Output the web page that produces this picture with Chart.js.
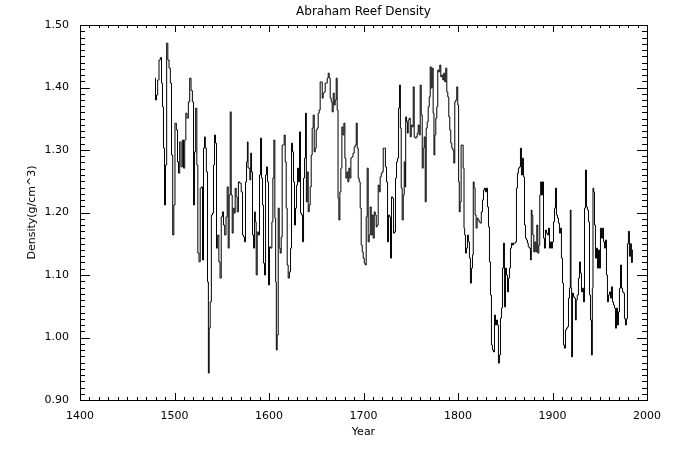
<!DOCTYPE html>
<html>
<head>
<meta charset="utf-8">
<script src="https://cdn.jsdelivr.net/npm/chart.js@4.4.1/dist/chart.umd.min.js"></script>
<style>
  html, body { margin: 0; padding: 0; background: #fff; }
  #wrap { width: 675px; height: 450px; }
</style>
</head>
<body>
<div id="wrap"><canvas id="chart" width="675" height="450"></canvas></div>
<script>
// Abraham Reef coral density series
const years = [
  1479.4, 1480.4, 1481.5, 1482.9, 1484.3, 1485.7, 1486.8, 1487.8, 1488.9, 1490.0,
  1491.0, 1492.4, 1493.5, 1494.9, 1496.3, 1497.4, 1498.8, 1499.8, 1501.2, 1502.7,
  1503.7, 1504.8, 1506.2, 1507.6, 1509.0, 1510.1, 1511.5, 1512.5, 1513.9, 1515.4,
  1516.8, 1518.2, 1519.6, 1520.7, 1521.7, 1523.1, 1524.2, 1525.2, 1526.7, 1527.7,
  1529.1, 1530.2, 1531.2, 1532.3, 1533.0, 1534.4, 1535.5, 1536.2, 1537.2, 1538.3,
  1539.7, 1540.8, 1541.8, 1542.9, 1543.9, 1545.0, 1546.4, 1547.5, 1548.9, 1550.0,
  1551.4, 1552.4, 1553.8, 1555.2, 1556.3, 1557.3, 1558.4, 1559.5, 1560.5, 1561.6,
  1562.6, 1563.7, 1564.7, 1565.8, 1566.9, 1568.3, 1569.7, 1571.5, 1572.5, 1573.6,
  1574.6, 1575.7, 1576.8, 1577.5, 1578.2, 1579.2, 1580.3, 1581.0, 1582.0, 1583.1,
  1584.2, 1585.2, 1585.9, 1587.0, 1588.0, 1589.4, 1590.5, 1591.6, 1592.6, 1593.7,
  1594.7, 1595.8, 1596.9, 1597.9, 1599.0, 1600.0, 1601.1, 1602.5, 1603.6, 1604.6,
  1605.7, 1606.7, 1607.4, 1608.1, 1609.2, 1610.3, 1611.3, 1612.4, 1613.4, 1614.5,
  1615.5, 1616.6, 1617.7, 1618.7, 1619.8, 1620.8, 1622.3, 1623.3, 1624.4, 1625.4,
  1626.5, 1627.5, 1628.6, 1629.7, 1630.7, 1631.8, 1632.8, 1633.9, 1635.0, 1636.0,
  1637.1, 1638.1, 1639.2, 1639.9, 1641.0, 1642.0, 1643.1, 1644.1, 1645.2, 1646.2,
  1647.3, 1648.4, 1649.4, 1650.5, 1651.5, 1652.6, 1653.6, 1654.7, 1655.8, 1656.8,
  1657.9, 1658.9, 1660.0, 1661.1, 1662.1, 1663.2, 1664.2, 1665.3, 1666.3, 1667.4,
  1668.5, 1669.5, 1670.6, 1671.6, 1672.7, 1673.4, 1674.5, 1675.5, 1676.6, 1677.6,
  1678.7, 1679.8, 1680.8, 1681.9, 1682.9, 1684.0, 1685.0, 1686.1, 1687.2, 1688.2,
  1689.6, 1690.7, 1691.8, 1692.8, 1693.9, 1694.9, 1696.0, 1697.0, 1698.1, 1699.2,
  1700.2, 1701.3, 1702.3, 1703.4, 1704.4, 1705.5, 1706.6, 1707.6, 1708.7, 1709.7,
  1710.8, 1711.9, 1712.9, 1714.0, 1715.0, 1716.1, 1717.1, 1718.2, 1719.3, 1720.3,
  1721.4, 1722.4, 1723.9, 1724.9, 1726.0, 1727.0, 1728.1, 1729.1, 1730.2, 1731.3,
  1732.3, 1733.4, 1734.4, 1735.5, 1736.6, 1737.6, 1738.7, 1739.4, 1740.4, 1741.5,
  1742.6, 1743.6, 1744.3, 1745.0, 1746.1, 1746.8, 1747.8, 1748.9, 1750.0, 1751.0,
  1752.1, 1753.1, 1754.2, 1755.2, 1756.3, 1757.4, 1758.4, 1759.5, 1760.5, 1761.6,
  1762.7, 1763.7, 1764.8, 1765.8, 1766.9, 1767.9, 1769.0, 1770.1, 1771.1, 1772.2,
  1773.2, 1774.2, 1774.9, 1776.0, 1777.0, 1778.1, 1779.1, 1780.2, 1781.3, 1782.3,
  1783.4, 1784.4, 1785.5, 1786.5, 1787.6, 1788.7, 1789.7, 1790.8, 1791.8, 1792.9,
  1794.0, 1795.0, 1796.1, 1797.1, 1798.2, 1799.2, 1800.3, 1801.0, 1801.7, 1802.8,
  1803.8, 1804.9, 1806.0, 1806.7, 1807.4, 1808.4, 1809.5, 1810.5, 1811.6, 1812.6,
  1813.7, 1814.8, 1815.8, 1816.5, 1817.6, 1818.6, 1819.7, 1820.8, 1821.8, 1822.9,
  1823.9, 1825.4, 1826.4, 1827.5, 1828.5, 1829.6, 1830.7, 1831.7, 1832.8, 1833.8,
  1834.9, 1835.9, 1837.0, 1838.1, 1839.1, 1840.2, 1841.2, 1842.3, 1843.3, 1844.4,
  1845.5, 1846.5, 1847.6, 1848.6, 1849.7, 1850.8, 1851.8, 1852.9, 1853.9, 1855.0,
  1856.0, 1857.1, 1858.2, 1859.2, 1860.3, 1861.3, 1862.4, 1863.4, 1864.5, 1865.6,
  1866.6, 1867.7, 1868.7, 1869.8, 1870.9, 1871.9, 1873.0, 1874.0, 1874.7, 1876.2,
  1877.2, 1877.9, 1878.6, 1879.7, 1880.7, 1881.8, 1882.9, 1883.9, 1885.0, 1886.0,
  1887.1, 1887.8, 1888.9, 1889.9, 1891.0, 1892.0, 1893.1, 1894.1, 1895.2, 1896.3,
  1897.3, 1898.4, 1899.4, 1900.5, 1901.6, 1902.6, 1903.7, 1904.7, 1905.8, 1906.8,
  1907.9, 1908.9, 1910.0, 1911.1, 1912.1, 1913.2, 1914.3, 1915.3, 1916.4, 1917.4,
  1918.5, 1919.2, 1919.9, 1920.6, 1921.7, 1922.7, 1923.8, 1924.8, 1925.5, 1926.9,
  1928.0, 1929.1, 1930.1, 1931.2, 1932.2, 1933.3, 1934.4, 1935.4, 1936.5, 1937.5,
  1938.6, 1939.7, 1940.7, 1941.8, 1942.5, 1943.2, 1943.9, 1944.9, 1946.0, 1947.1,
  1948.1, 1949.2, 1950.2, 1951.3, 1952.3, 1953.4, 1954.5, 1955.5, 1956.6, 1957.6,
  1958.7, 1959.8, 1960.8, 1961.9, 1962.9, 1964.0, 1965.1, 1966.1, 1967.2, 1968.2,
  1969.3, 1970.3, 1971.4, 1972.5, 1973.5, 1974.6, 1975.6, 1976.7, 1977.7, 1978.8,
  1979.8, 1980.9, 1981.9, 1983.0, 1984.0, 1985.1
];

const density = [
  1.415, 1.380, 1.388, 1.412, 1.444, 1.448, 1.407, 1.369, 1.303, 1.212,
  1.276, 1.471, 1.444, 1.431, 1.407, 1.292, 1.164, 1.212, 1.343, 1.332,
  1.281, 1.263, 1.313, 1.273, 1.316, 1.271, 1.316, 1.359, 1.351, 1.377,
  1.415, 1.395, 1.377, 1.212, 1.297, 1.367, 1.276, 1.135, 1.121, 1.239,
  1.241, 1.124, 1.303, 1.321, 1.303, 1.265, 1.089, 0.943, 1.015, 1.057,
  1.196, 1.199, 1.276, 1.324, 1.311, 1.143, 1.164, 1.121, 1.095, 1.193,
  1.201, 1.180, 1.164, 1.193, 1.241, 1.143, 1.228, 1.361, 1.228, 1.167,
  1.207, 1.199, 1.239, 1.225, 1.201, 1.249, 1.247, 1.233, 1.164, 1.161,
  1.153, 1.249, 1.281, 1.313, 1.271, 1.271, 1.252, 1.295, 1.265, 1.164,
  1.143, 1.201, 1.185, 1.100, 1.169, 1.164, 1.260, 1.319, 1.255, 1.212,
  1.119, 1.100, 1.260, 1.273, 1.249, 1.084, 1.145, 1.143, 1.185, 1.255,
  1.316, 1.191, 1.089, 0.980, 1.004, 1.207, 1.143, 1.135, 1.161, 1.308,
  1.308, 1.324, 1.281, 1.207, 1.116, 1.095, 1.105, 1.143, 1.311, 1.297,
  1.249, 1.180, 1.207, 1.244, 1.271, 1.249, 1.329, 1.199, 1.196, 1.153,
  1.255, 1.287, 1.359, 1.217, 1.265, 1.201, 1.212, 1.241, 1.292, 1.335,
  1.356, 1.297, 1.303, 1.332, 1.335, 1.359, 1.364, 1.409, 1.409, 1.383,
  1.391, 1.393, 1.407, 1.407, 1.415, 1.423, 1.415, 1.383, 1.377, 1.361,
  1.391, 1.372, 1.380, 1.415, 1.364, 1.223, 1.188, 1.233, 1.271, 1.337,
  1.324, 1.343, 1.287, 1.255, 1.265, 1.249, 1.271, 1.255, 1.287, 1.289,
  1.295, 1.305, 1.308, 1.343, 1.303, 1.255, 1.249, 1.207, 1.148, 1.137,
  1.127, 1.119, 1.116, 1.193, 1.271, 1.153, 1.164, 1.209, 1.164, 1.196,
  1.159, 1.201, 1.196, 1.177, 1.180, 1.244, 1.233, 1.257, 1.263, 1.265,
  1.303, 1.303, 1.273, 1.249, 1.153, 1.196, 1.193, 1.127, 1.225, 1.223,
  1.167, 1.169, 1.255, 1.281, 1.287, 1.367, 1.404, 1.335, 1.239, 1.188,
  1.228, 1.281, 1.241, 1.353, 1.345, 1.327, 1.348, 1.351, 1.321, 1.340,
  1.337, 1.401, 1.321, 1.319, 1.321, 1.327, 1.340, 1.324, 1.404, 1.356,
  1.271, 1.303, 1.321, 1.217, 1.335, 1.345, 1.369, 1.385, 1.433, 1.399,
  1.431, 1.359, 1.292, 1.324, 1.351, 1.369, 1.428, 1.425, 1.436, 1.417,
  1.420, 1.412, 1.423, 1.409, 1.431, 1.393, 1.385, 1.353, 1.332, 1.311,
  1.303, 1.300, 1.279, 1.377, 1.380, 1.401, 1.372, 1.249, 1.201, 1.217,
  1.308, 1.308, 1.271, 1.175, 1.164, 1.135, 1.143, 1.164, 1.153, 1.127,
  1.087, 1.111, 1.132, 1.249, 1.239, 1.196, 1.175, 1.191, 1.188, 1.185,
  1.183, 1.201, 1.220, 1.236, 1.239, 1.233, 1.239, 1.209, 1.177, 1.121,
  1.068, 0.988, 0.980, 0.977, 1.036, 1.020, 1.028, 1.020, 0.959, 0.972,
  1.031, 1.047, 1.111, 1.151, 1.049, 1.111, 1.100, 1.073, 1.095, 1.111,
  1.143, 1.151, 1.148, 1.151, 1.151, 1.153, 1.239, 1.263, 1.271, 1.273,
  1.303, 1.260, 1.287, 1.257, 1.180, 1.159, 1.156, 1.151, 1.145, 1.143,
  1.124, 1.204, 1.196, 1.164, 1.137, 1.153, 1.137, 1.180, 1.135, 1.148,
  1.228, 1.249, 1.228, 1.249, 1.159, 1.143, 1.172, 1.167, 1.164, 1.175,
  1.143, 1.153, 1.143, 1.153, 1.185, 1.207, 1.239, 1.196, 1.191, 1.183,
  1.167, 1.175, 1.127, 1.087, 0.988, 0.983, 1.012, 1.015, 1.017, 1.063,
  1.079, 1.204, 1.079, 0.969, 1.071, 1.065, 1.063, 1.028, 1.060, 1.068,
  1.095, 1.121, 1.103, 1.073, 1.079, 1.057, 1.207, 1.268, 1.209, 1.204,
  1.185, 1.068, 1.028, 0.972, 1.079, 1.239, 1.233, 1.180, 1.127, 1.143,
  1.111, 1.140, 1.111, 1.175, 1.159, 1.175, 1.153, 1.143, 1.156, 1.100,
  1.057, 1.068, 1.073, 1.063, 1.081, 1.057, 1.052, 1.047, 1.015, 1.047,
  1.020, 1.041, 1.079, 1.116, 1.079, 1.073, 1.071, 1.030, 1.020, 1.030,
  1.150, 1.170, 1.130, 1.150, 1.120, 1.140
];

// axis limits and tick labels
const xTicks = [1400, 1500, 1600, 1700, 1800, 1900, 2000];
const yTicks = [0.90, 1.00, 1.10, 1.20, 1.30, 1.40, 1.50];

const FONT = '"DejaVu Sans", "Liberation Sans", sans-serif';

// IDL-style frame: box round the plot and inward ticks on all four sides
const idlFrame = {
    id: 'idlFrame',
    afterDraw(chart) {
        const ctx = chart.ctx;
        const a = chart.chartArea;
        const xs = chart.scales.x;
        const ys = chart.scales.y;
        ctx.save();
        ctx.strokeStyle = '#000';
        ctx.lineWidth = 1;
        ctx.strokeRect(Math.round(a.left) + 0.5, Math.round(a.top) + 0.5,
            Math.round(a.right - a.left), Math.round(a.bottom - a.top));

        ctx.beginPath();
        for (let yr = xTicks[0]; yr <= xTicks[xTicks.length - 1]; yr += 10) {
            const px = Math.round(xs.getPixelForValue(yr)) + 0.5;
            const len = yr % 100 === 0 ? 7 : 3;
            ctx.moveTo(px, a.bottom);
            ctx.lineTo(px, a.bottom - len);
            ctx.moveTo(px, a.top);
            ctx.lineTo(px, a.top + len);
        }
        for (let i = 90; i <= 150; i++) {
            const py = Math.round(ys.getPixelForValue(i / 100)) + 0.5;
            const len = i % 10 === 0 ? 10 : 5;
            ctx.moveTo(a.left, py);
            ctx.lineTo(a.left + len, py);
            ctx.moveTo(a.right, py);
            ctx.lineTo(a.right - len, py);
        }
        ctx.stroke();

        // titles
        const midX = (a.left + a.right) / 2;
        ctx.fillStyle = '#000';
        ctx.textAlign = 'center';
        ctx.textBaseline = 'middle';
        ctx.font = '12px ' + FONT;
        ctx.fillText('Abraham Reef Density', midX, 12);
        ctx.font = '11px ' + FONT;
        ctx.fillText('Year', midX, 432);
        ctx.translate(32, (a.top + a.bottom) / 2);
        ctx.rotate(-Math.PI / 2);
        ctx.fillText('Density(g/cm^3)', 0, 0);
        ctx.restore();
    }
};

const ctx = document.getElementById('chart').getContext('2d');

new Chart(ctx, {
    type: 'line',
    data: {
        datasets: [{
            data: years.map((yr, i) => ({ x: yr, y: density[i] })),
            borderColor: '#000',
            borderWidth: 1,
            pointRadius: 0,
            stepped: 'middle',
            fill: false
        }]
    },
    options: {
        responsive: false,
        animation: false,
        layout: { padding: { top: 25, right: 28, left: 0, bottom: 0 } },
        scales: {
            x: {
                type: 'linear',
                min: xTicks[0],
                max: xTicks[xTicks.length - 1],
                afterFit: (s) => { s.height = 50; },
                afterBuildTicks: (s) => { s.ticks = xTicks.map(v => ({ value: v })); },
                grid: { display: false },
                border: { display: false },
                ticks: {
                    color: '#000',
                    padding: 2,
                    maxRotation: 0,
                    font: { family: FONT, size: 11 },
                    callback: (v) => String(v)
                }
            },
            y: {
                min: yTicks[0],
                max: yTicks[yTicks.length - 1],
                afterFit: (s) => { s.width = 80; },
                afterBuildTicks: (s) => { s.ticks = yTicks.map(v => ({ value: v })); },
                grid: { display: false },
                border: { display: false },
                ticks: {
                    color: '#000',
                    padding: 3,
                    font: { family: FONT, size: 11 },
                    callback: (v) => Number(v).toFixed(2)
                }
            }
        },
        plugins: {
            legend: { display: false },
            tooltip: { enabled: false },
            title: { display: false }
        }
    },
    plugins: [idlFrame]
});
</script>
</body>
</html>
